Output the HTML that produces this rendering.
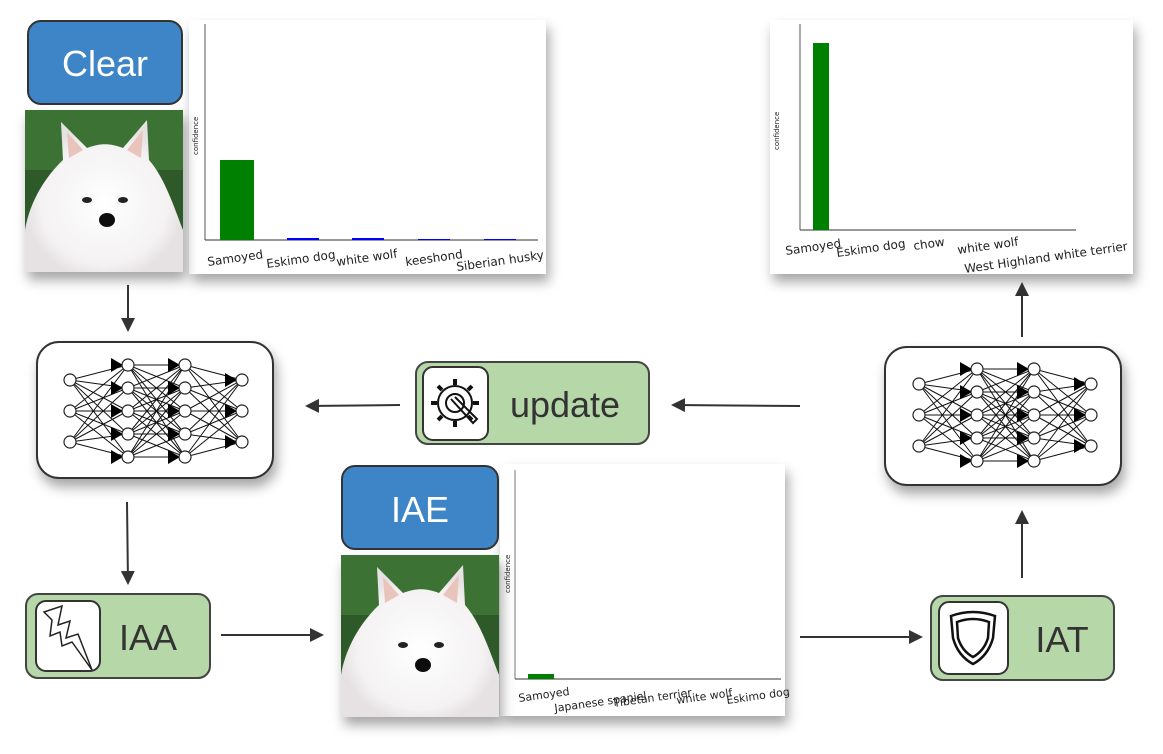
<!DOCTYPE html>
<html><head><meta charset="utf-8"><style>
html,body{margin:0;padding:0;background:#fff;width:1163px;height:754px;overflow:hidden}
svg{display:block}
.t{font-family:"Comic Sans MS","Liberation Sans",sans-serif}
.l{font-family:"DejaVu Sans","Liberation Sans",sans-serif;fill:#222}
</style></head><body>
<svg id="s" width="1163" height="754" viewBox="0 0 1163 754" xmlns="http://www.w3.org/2000/svg">
<defs>
<filter id="sh" x="-20%" y="-20%" width="150%" height="160%"><feDropShadow dx="3" dy="8" stdDeviation="6" flood-color="#000" flood-opacity="0.35"/></filter>
<marker id="ah" markerWidth="14" markerHeight="14" refX="12" refY="7" orient="auto" markerUnits="userSpaceOnUse"><path d="M0,0 L14,7 L0,14 z" fill="#333"/></marker>
<radialGradient id="fur" cx="50%" cy="55%" r="50%"><stop offset="0" stop-color="#fff"/><stop offset="0.8" stop-color="#f4f2f2"/><stop offset="1" stop-color="#e6e2e4"/></radialGradient>
<g id="dog">
<rect width="158" height="162" fill="#2f5a2a"/>
<rect x="0" y="0" width="158" height="60" fill="#3d7236"/>
<path d="M0,162 L0,120 C5,90 22,65 38,50 L36,12 L62,38 C75,33 85,33 98,38 L122,10 L124,50 C140,68 150,100 158,120 L158,162 z" fill="url(#fur)"/>
<path d="M42,22 L58,40 L44,48 z" fill="#e9c4bd"/><path d="M118,20 L102,40 L116,48 z" fill="#e9c4bd"/>
<ellipse cx="62" cy="90" rx="5" ry="3" fill="#222"/><ellipse cx="98" cy="90" rx="5" ry="3" fill="#222"/>
<ellipse cx="82" cy="110" rx="8" ry="7" fill="#111"/>
</g>
</defs>

<rect x="189" y="20" width="357" height="254" fill="#fff" filter="url(#sh)"/>
<rect x="770" y="20" width="363" height="254" fill="#fff" filter="url(#sh)"/>
<rect x="500" y="464" width="285" height="252" fill="#fff" filter="url(#sh)"/>

<rect x="28" y="21" width="154" height="83" rx="13" fill="#3d85c6" stroke="#333" stroke-width="2"/>
<text x="105" y="76" text-anchor="middle" class="t" font-size="36" fill="#fff">Clear</text>
<use href="#dog" x="25" y="110" filter="url(#sh)"/>

<line x1="205" y1="24" x2="205" y2="240" stroke="#555"/>
<line x1="205" y1="240" x2="538" y2="240" stroke="#333"/>
<text transform="translate(198,155) rotate(-90)" class="l" style="font-size:7px" fill="#333">confidence</text>
<rect x="220" y="160" width="34" height="80" fill="#008000"/>
<rect x="287" y="238" width="32" height="2" fill="#00f"/>
<rect x="352" y="238" width="32" height="2" fill="#00f"/>
<rect x="418" y="239" width="32" height="1" fill="#00f"/>
<rect x="484" y="239" width="32" height="1" fill="#00f"/>
<g style="font-size:12px">
<text transform="translate(208,266) rotate(-8)" class="l">Samoyed</text>
<text transform="translate(267,268) rotate(-8)" class="l">Eskimo dog</text>
<text transform="translate(337,266) rotate(-8)" class="l">white wolf</text>
<text transform="translate(406,266) rotate(-8)" class="l">keeshond</text>
<text transform="translate(457,271) rotate(-8)" class="l">Siberian husky</text>

<text transform="translate(786,255) rotate(-8)" class="l">Samoyed</text>
<text transform="translate(837,257) rotate(-8)" class="l">Eskimo dog</text>
<text transform="translate(914,250) rotate(-8)" class="l">chow</text>
<text transform="translate(958,254) rotate(-8)" class="l">white wolf</text>
<text transform="translate(965,273) rotate(-8)" class="l">West Highland white terrier</text>
</g>
<line x1="800" y1="24" x2="800" y2="230" stroke="#555"/>
<line x1="800" y1="230" x2="1076" y2="230" stroke="#333"/>
<text transform="translate(779,150) rotate(-90)" class="l" style="font-size:7px" fill="#333">confidence</text>
<rect x="813" y="43" width="16" height="187" fill="#008000"/>

<line x1="515" y1="470" x2="515" y2="679" stroke="#777"/>
<line x1="515" y1="679" x2="781" y2="679" stroke="#333"/>
<text transform="translate(510,593) rotate(-90)" class="l" style="font-size:7px" fill="#333">confidence</text>
<rect x="528" y="674" width="26" height="5" fill="#008000"/>
<g style="font-size:11px">
<text transform="translate(519,702) rotate(-8)" class="l">Samoyed</text>
<text transform="translate(555,712) rotate(-8)" class="l">Japanese spaniel</text>
<text transform="translate(614,707) rotate(-8)" class="l">Tibetan terrier</text>
<text transform="translate(677,704) rotate(-8)" class="l">white wolf</text>
<text transform="translate(727,704) rotate(-8)" class="l">Eskimo dog</text>
</g>

<rect x="37" y="342" width="236" height="136" rx="22" fill="#fff" stroke="#333" stroke-width="2" filter="url(#sh)"/>
<rect x="885" y="347" width="236" height="138" rx="22" fill="#fff" stroke="#333" stroke-width="2" filter="url(#sh)"/>
<g id="nn1"></g><g id="nn2"></g>

<rect x="416" y="362" width="233" height="82" rx="12" fill="#b6d7a8" stroke="#444" stroke-width="2"/>
<rect x="423" y="367" width="65" height="73" rx="10" fill="#fff" stroke="#333" stroke-width="2"/>
<g transform="translate(455,403)" fill="none" stroke="#111" stroke-width="2">
<circle r="17"/><circle r="9"/>
<path d="M0,-24 v6 M0,24 v-6 M-24,0 h6 M24,0 h-6 M-17,-17 l4,4 M17,17 l-4,-4 M-17,17 l4,-4 M17,-17 l-4,4" stroke-width="4"/>
<path d="M-4,-4 L18,20 L22,16 L0,-6"/>
</g>
<text x="565" y="417" text-anchor="middle" class="t" font-size="36" fill="#333">update</text>

<rect x="26" y="594" width="184" height="84" rx="12" fill="#b6d7a8" stroke="#444" stroke-width="2"/>
<rect x="36" y="601" width="64" height="70" rx="10" fill="#fff" stroke="#333" stroke-width="2"/>
<path d="M44,612 L62,606 L58,625 L70,621 L66,638 L78,634 L92,670 L72,642 L62,646 L60,632 L50,636 L52,620 z" fill="#fff" stroke="#222" stroke-width="1.5"/>
<text x="148" y="650" text-anchor="middle" class="t" font-size="36" fill="#333">IAA</text>

<rect x="342" y="466" width="156" height="83" rx="13" fill="#3d85c6" stroke="#333" stroke-width="2"/>
<text x="420" y="522" text-anchor="middle" class="t" font-size="36" fill="#fff">IAE</text>
<use href="#dog" x="341" y="555" filter="url(#sh)"/>

<rect x="931" y="596" width="183" height="84" rx="12" fill="#b6d7a8" stroke="#444" stroke-width="2"/>
<rect x="939" y="602" width="69" height="72" rx="10" fill="#fff" stroke="#333" stroke-width="2"/>
<path d="M951,616 Q973,608 995,616 L993,638 Q988,656 973,664 Q958,656 953,638 z" fill="none" stroke="#111" stroke-width="2.5"/>
<path d="M957,622 Q973,616 989,622 L988,638 Q984,651 973,657 Q962,651 958,638 z" fill="none" stroke="#111" stroke-width="2.5"/>
<text x="1062" y="652" text-anchor="middle" class="t" font-size="36" fill="#333">IAT</text>

<g stroke="#333" stroke-width="2" marker-end="url(#ah)">
<line x1="128" y1="285" x2="128" y2="330"/>
<line x1="400" y1="405" x2="307" y2="406"/>
<line x1="800" y1="406" x2="673" y2="405"/>
<line x1="127" y1="502" x2="128" y2="583"/>
<line x1="221" y1="635" x2="322" y2="635"/>
<line x1="800" y1="637" x2="921" y2="637"/>
<line x1="1022" y1="578" x2="1022" y2="512"/>
<line x1="1022" y1="337" x2="1022" y2="284"/>
</g>
</svg>
<script>
function nn(id,ox,oy){
 var g=document.getElementById(id),h='';
 var cols=[[0,3],[58,5],[115,5],[172,3]];
 var pts=cols.map(function(c){var n=c[1],s=n==3?31:23,arr=[];for(var i=0;i<n;i++)arr.push([ox+c[0],oy+(i-(n-1)/2)*s]);return arr;});
 for(var k=0;k<pts.length-1;k++)pts[k].forEach(function(a){pts[k+1].forEach(function(b){h+='<line x1="'+a[0]+'" y1="'+a[1]+'" x2="'+b[0]+'" y2="'+b[1]+'" stroke="#111" stroke-width="1"/>';});});
 for(var k=1;k<pts.length;k++)pts[k].forEach(function(b){h+='<path d="M'+(b[0]-17)+','+(b[1]-7)+' L'+(b[0]-17)+','+(b[1]+7)+' L'+(b[0]-5)+','+b[1]+' z" fill="#000"/>';});
 pts.forEach(function(c){c.forEach(function(p){h+='<circle cx="'+p[0]+'" cy="'+p[1]+'" r="6" fill="#fff" stroke="#222" stroke-width="1.2"/>';});});
 g.innerHTML=h;
}
nn("nn1",70,411);nn("nn2",919,415);
</script>
</body></html>
